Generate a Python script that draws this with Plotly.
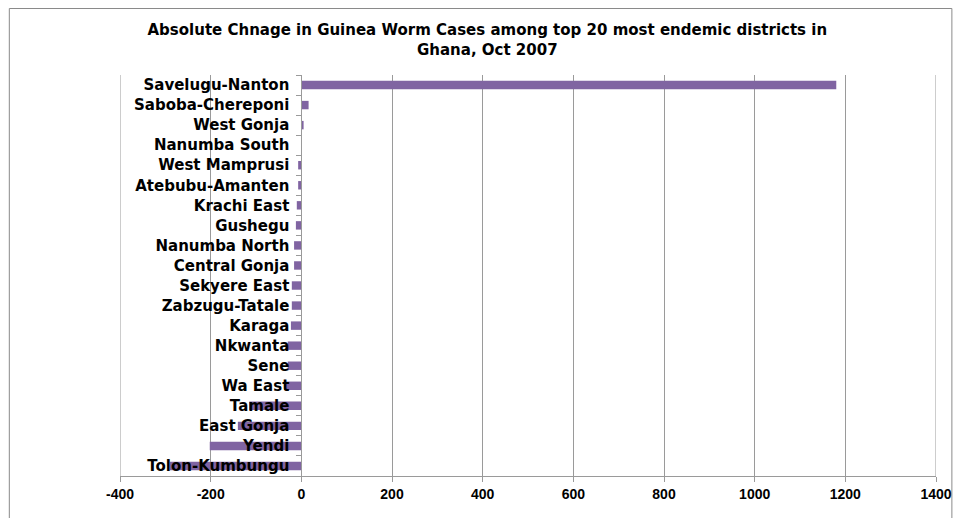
import plotly.graph_objects as go

DISTRICTS = [
    "Savelugu-Nanton", "Saboba-Chereponi", "West Gonja", "Nanumba South",
    "West Mamprusi", "Atebubu-Amanten", "Krachi East", "Gushegu",
    "Nanumba North", "Central Gonja", "Sekyere East", "Zabzugu-Tatale",
    "Karaga", "Nkwanta", "Sene", "Wa East", "Tamale", "East Gonja",
    "Yendi", "Tolon-Kumbungu",
]
CHANGE = [
    1180, 16, 5, 0, -7, -7, -10, -12, -16, -16,
    -21, -21, -23, -30, -30, -38, -115, -140, -202, -290,
]
X_TICKS = list(range(-400, 1401, 200))
X_LABELS = [str(v) for v in X_TICKS]

BAR = "#8064A2"
GRID = "#9a9a9a"
LABEL_FONT = "DejaVu Sans, sans-serif"
TICK_FONT = "Arial, Liberation Sans, sans-serif"

fig = go.Figure(go.Bar(
    x=CHANGE,
    y=DISTRICTS,
    orientation="h",
    marker_color=BAR,
    marker_line_width=0,
))

# page body has an 8px margin, so the figure is drawn 8px in from the corner
OFF = 8
W, H = 964 - OFF, 518 - OFF
L, T = 120 - OFF, 75 - OFF
R, B = W - (942 - OFF), H - (476 - OFF)
pw, ph = W - L - R, H - T - B

fig.update_layout(
    width=W,
    height=H,
    margin=dict(l=L, r=R, t=T, b=B),
    paper_bgcolor="white",
    plot_bgcolor="white",
    bargap=0.58,
    showlegend=False,
    title=dict(
        text="Absolute Chnage in Guinea Worm Cases among top 20 most endemic districts in<br>Ghana, Oct 2007",
        x=(490 - OFF - L) / pw,
        xref="paper",
        xanchor="center",
        y=1 - (35 - OFF) / H,
        yanchor="middle",
        font=dict(family=LABEL_FONT, size=15, color="black", weight="bold"),
    ),
    xaxis=dict(
        range=[-400, 1400],
        tickvals=X_TICKS,
        ticktext=X_LABELS,
        showgrid=True,
        gridcolor=GRID,
        gridwidth=1,
        zeroline=False,
        showline=True,
        linecolor=GRID,
        ticks="outside",
        ticklen=5,
        tickcolor=GRID,
        tickfont=dict(family=TICK_FONT, size=14, color="black", weight="bold"),
    ),
    yaxis=dict(
        autorange="reversed",
        anchor="free",
        position=400 / 1800,
        showgrid=False,
        zeroline=False,
        showline=True,
        linecolor=GRID,
        ticks="outside",
        tickson="boundaries",
        ticklen=5,
        tickcolor=GRID,
        ticklabelstandoff=9,
        tickfont=dict(family=LABEL_FONT, size=15, color="black", weight="bold"),
    ),
)

# outer chart frame
fig.add_shape(
    type="rect",
    xref="paper", yref="paper",
    x0=(0.5 - L) / pw, x1=(958 - OFF - L) / pw,
    y0=-0.3, y1=(H - B - 0.5) / ph,
    line=dict(color="#8a8a8a", width=1),
    fillcolor="rgba(0,0,0,0)",
    layer="below",
)
# plot-area side borders
for xv in (-400, 1400):
    fig.add_shape(
        type="line", xref="x", yref="paper",
        x0=xv, x1=xv, y0=0, y1=1,
        line=dict(color=GRID, width=1),
    )

fig.write_html("out.html")
